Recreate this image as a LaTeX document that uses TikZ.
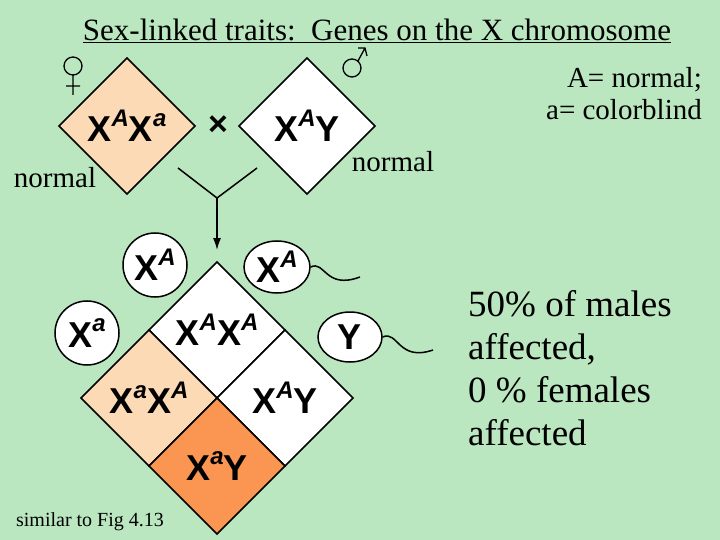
\documentclass[tikz,border=0pt]{standalone}
\usepackage{fontspec}
\usetikzlibrary{arrows.meta,shapes.geometric}
\setmainfont{Liberation Serif}
\newfontfamily\gsans{Liberation Sans}
\definecolor{bg}{RGB}{186,230,192}
\definecolor{peach}{RGB}{253,218,182}
\definecolor{orng}{RGB}{250,150,82}
\newcommand{\gX}[1]{X\raisebox{0.42em}{\fontsize{24}{24}\selectfont\itshape #1}}
\tikzset{geno/.style={font=\gsans\bfseries\fontsize{36}{36}\selectfont, inner sep=0pt},
 cell/.style={draw=black, line width=1.5pt},
 gam/.style={draw=black, line width=1.5pt, fill=white},
 lbl/.style={font=\fontsize{29}{34}\selectfont, inner sep=0pt}}
\begin{document}
\begin{tikzpicture}[x=1pt,y=-1pt]
\fill[bg] (0,0) rectangle (720,540);
\useasboundingbox (0,0) rectangle (720,540);
% title
\node[lbl, font=\fontsize{31}{34}\selectfont] (title) at (377,31) {\underline{Sex-linked traits:\ \ Genes on the X chromosome}};
\node[lbl, anchor=east] (l1) at (702,80) {A= normal;};
\node[lbl, anchor=east] (l2) at (702,110) {a= colorblind};
\node[lbl] (n1) at (55,178) {normal};
\node[lbl] (n2) at (393,162) {normal};
\node[lbl, anchor=west, align=left, font=\fontsize{37}{43}\selectfont] (res) at (468,368) {50\% of males\\affected,\\0 \% females\\affected};
\node[lbl, font=\fontsize{20}{20}\selectfont] (fig) at (90,522) {similar to Fig 4.13};
% parents
\draw[cell, fill=peach] (59,126) -- (127,58) -- (195,126) -- (127,194) -- cycle;
\draw[cell, fill=white] (239,126) -- (307,58) -- (375,126) -- (307,194) -- cycle;
\node[geno] (p1) at (127,126) {\gX{A}\gX{a}};
\node[geno] (p2) at (307,126) {\gX{A}Y};
\node[geno, font=\gsans\bfseries\fontsize{34}{34}\selectfont] (x) at (218,126) {×};
% symbols
\draw[line width=1.3pt] (73,66) circle (9) (73,75) -- (73,95) (66,86) -- (80,86);
\draw[line width=1.3pt] (352,68) circle (9) (358,61) -- (365,48) (358,48) -- (365,48) -- (367,56);
% Y connector
\coordinate (ya) at (178,168); \coordinate (yb) at (257,168); \coordinate (yj) at (217,198); \coordinate (yc) at (217,250);
\draw[line width=1.5pt] (ya) -- (yj) -- (yb);
\draw[line width=1.5pt, -{Latex[length=12pt,width=8pt]}] (yj) -- (yc);
% punnett
\draw[cell, fill=white] (217,262) -- (285,330) -- (217,398) -- (149,330) -- cycle;
\draw[cell, fill=peach] (149,330) -- (217,398) -- (149,466) -- (81,398) -- cycle;
\draw[cell, fill=white] (285,330) -- (353,398) -- (285,466) -- (217,398) -- cycle;
\draw[cell, fill=orng] (217,398) -- (285,466) -- (217,534) -- (149,466) -- cycle;
\node[geno] (c1) at (217,330) {\gX{A}\gX{A}};
\node[geno] (c2) at (149,398) {\gX{a}\gX{A}};
\node[geno] (c3) at (285,398) {\gX{A}Y};
\node[geno] (c4) at (217,466) {\gX{a}Y};
% gametes
\node[gam, circle, minimum size=64pt, geno] (e1) at (155,265) {\gX{A}};
\node[gam, circle, minimum size=64pt, geno] (e2) at (87,333) {\gX{a}};
\node[gam, ellipse, minimum width=66pt, minimum height=52pt, inner sep=-6pt, geno] (s1) at (277,267) {\gX{A}};
\node[gam, ellipse, minimum width=64pt, minimum height=50pt, geno] (s2) at (350,337) {Y};
\coordinate (t1) at (360,277); \coordinate (t2) at (433,350);
\draw[line width=1.5pt] (s1.east) .. controls (325,260) and (325,290) .. (t1);
\draw[line width=1.5pt] (s2.east) .. controls (398,330) and (398,362) .. (t2);
\end{tikzpicture}
\end{document}
